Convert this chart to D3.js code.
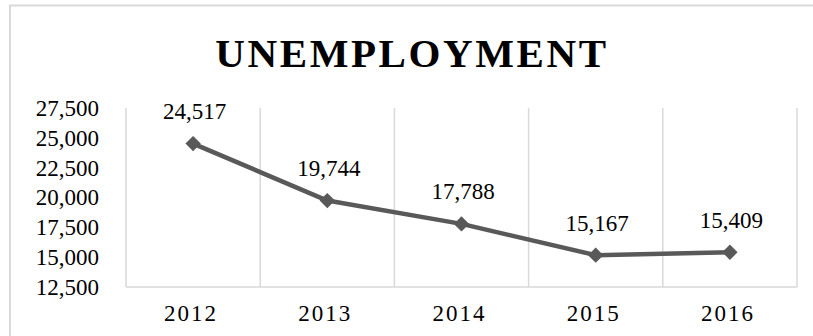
<!DOCTYPE html>
<html>
<head>
<meta charset="utf-8">
<script src="https://cdn.jsdelivr.net/npm/d3@7"></script>
<style>
  html, body { margin: 0; padding: 0; background: #fff; }
  svg { display: block; }
  text { font-family: "Liberation Serif", "Times New Roman", serif; }
</style>
</head>
<body>
<svg id="chart" width="813" height="336"></svg>
<script>
// Unemployment by year
const years = ["2012", "2013", "2014", "2015", "2016"];
const unemployment = [24517, 19744, 17788, 15167, 15409];
const yTicks = [12500, 15000, 17500, 20000, 22500, 25000, 27500];
const chartTitle = "UNEMPLOYMENT";

const W = 813, H = 336;
const plot = { left: 126, right: 797, top: 108, bottom: 287 };
const lineColor = "#595959";
const gridColor = "#d9d9d9";

const svg = d3.select("#chart");

// chart frame
svg.append("rect")
  .attr("x", 10).attr("y", 5.5)
  .attr("width", W + 20).attr("height", H + 20)
  .attr("fill", "#fff")
  .attr("stroke", gridColor).attr("stroke-width", 2);

const x = d3.scaleBand().domain(years).range([plot.left, plot.right]).padding(0);
const y = d3.scaleLinear().domain([d3.min(yTicks), d3.max(yTicks)]).range([plot.bottom, plot.top]);

// vertical gridlines at category boundaries
const bounds = years.map(d => x(d)).concat([x.range()[1]]);
svg.append("g").selectAll("line")
  .data(bounds)
  .join("line")
  .attr("x1", d => d).attr("x2", d => d)
  .attr("y1", plot.top).attr("y2", plot.bottom)
  .attr("stroke", gridColor).attr("stroke-width", 1.5);

// category axis line
svg.append("line")
  .attr("x1", plot.left).attr("x2", plot.right)
  .attr("y1", plot.bottom).attr("y2", plot.bottom)
  .attr("stroke", gridColor).attr("stroke-width", 1.5);

// title
svg.append("text")
  .attr("x", 412).attr("y", 67)
  .attr("text-anchor", "middle")
  .attr("font-size", 41)
  .attr("font-weight", "bold")
  .attr("letter-spacing", 2.6)
  .attr("fill", "#000")
  .text(chartTitle);

// value axis
const yAxis = svg.append("g")
  .attr("transform", `translate(${plot.left},0)`)
  .call(d3.axisLeft(y).tickValues(yTicks).tickFormat(d3.format(",")).tickSize(0).tickPadding(27));
yAxis.select(".domain").remove();
yAxis.selectAll("text")
  .attr("font-size", 23)
  .attr("fill", "#000")
  .style("font-family", "'Liberation Serif', serif");

// category axis
const xAxis = svg.append("g")
  .attr("transform", `translate(0,${plot.bottom})`)
  .call(d3.axisBottom(x).tickSize(0).tickPadding(17.5));
xAxis.select(".domain").remove();
xAxis.selectAll("text")
  .attr("font-size", 23)
  .attr("letter-spacing", 2)
  .attr("dx", -2)
  .attr("fill", "#000")
  .style("font-family", "'Liberation Serif', serif");

const cx = d => x(d) + x.bandwidth() / 2;
const pts = years.map((d, i) => ({ year: d, value: unemployment[i] }));

// series line
svg.append("path")
  .datum(pts)
  .attr("fill", "none")
  .attr("stroke", lineColor)
  .attr("stroke-width", 4.5)
  .attr("stroke-linejoin", "round")
  .attr("d", d3.line().x(d => cx(d.year)).y(d => y(d.value)));

// diamond markers
svg.append("g").selectAll("path")
  .data(pts)
  .join("path")
  .attr("transform", d => `translate(${cx(d.year)},${y(d.value)})`)
  .attr("d", d3.symbol(d3.symbolDiamond2, 150)())
  .attr("fill", lineColor);

// data labels
svg.append("g").selectAll("text")
  .data(pts)
  .join("text")
  .attr("x", d => cx(d.year) + 1.5)
  .attr("y", d => y(d.value) - 32.5)
  .attr("dy", "0.35em")
  .attr("text-anchor", "middle")
  .attr("font-size", 23)
  .attr("fill", "#000")
  .text(d => d3.format(",")(d.value));
</script>
</body>
</html>
